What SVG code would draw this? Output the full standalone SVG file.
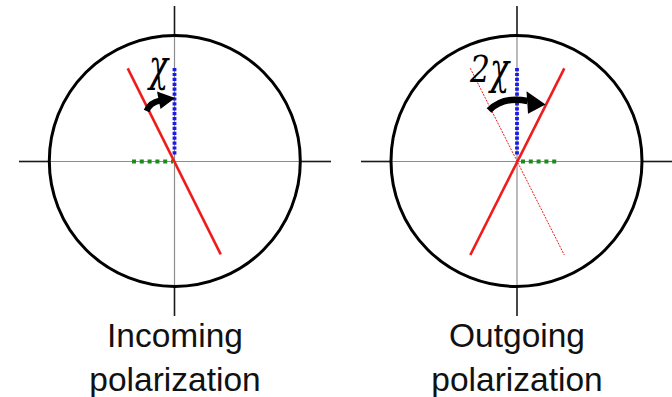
<svg xmlns="http://www.w3.org/2000/svg" width="672" height="397" viewBox="0 0 672 397">
<style>
.bg{fill:#ffffff}
.ax-in{stroke:#8c8c8c;stroke-width:1.2;fill:none}
.ax-out{stroke:#1a1a1a;stroke-width:1.6;fill:none}
.circ{stroke:#000;stroke-width:3;fill:none}
.red{stroke:#f01c1c;stroke-width:2.6;fill:none}
.reddot{stroke:#f01c1c;stroke-width:1;stroke-dasharray:2 1.2;fill:none}
.blue{stroke:#1a1aee;stroke-width:3.8;stroke-dasharray:3.2 1.7;fill:none}
.green{stroke:#1d8a1d;stroke-width:3.8;stroke-dasharray:4 3.8;fill:none}
.shaft{stroke:#000;fill:none;stroke-linecap:butt}
.head{fill:#000}
.lbl{font-family:'Liberation Sans',Arial,sans-serif;font-size:33.5px;fill:#111;text-anchor:middle}
.math{font-family:'DejaVu Serif','Liberation Serif',serif;font-style:italic;fill:#000}
</style>
<rect class="bg" x="0" y="0" width="672" height="397"/>

<g id="incoming">
  <line class="ax-in" x1="174.5" y1="35" x2="174.5" y2="287"/>
  <line class="ax-in" x1="49" y1="161.5" x2="300" y2="161.5"/>
  <line class="ax-out" x1="174.5" y1="6" x2="174.5" y2="35"/>
  <line class="ax-out" x1="174.5" y1="287" x2="174.5" y2="316"/>
  <line class="ax-out" x1="19" y1="161.5" x2="49" y2="161.5"/>
  <line class="ax-out" x1="300" y1="161.5" x2="331" y2="161.5"/>
  <circle class="circ" cx="174.8" cy="161" r="125.5"/>
  <line class="blue" x1="174.5" y1="68" x2="174.5" y2="156"/>
  <line class="green" x1="132" y1="161.5" x2="173" y2="161.5"/>
  <line class="red" x1="127.7" y1="68.3" x2="220.7" y2="254.3"/>
  <path class="shaft" d="M146.5,111 Q150,102.5 160,100.5" stroke-width="6"/>
  <polygon class="head" points="175,98 157,91.5 160.5,109"/>
  <text class="math" font-size="44" transform="translate(149,81) scale(0.72,1)">χ</text>
  <text class="lbl" x="175" y="347">Incoming</text>
  <text class="lbl" x="175" y="391">polarization</text>
</g>

<g id="outgoing">
  <line class="ax-in" x1="517" y1="35" x2="517" y2="287"/>
  <line class="ax-in" x1="391" y1="161.5" x2="642" y2="161.5"/>
  <line class="ax-out" x1="517" y1="6" x2="517" y2="35"/>
  <line class="ax-out" x1="517" y1="287" x2="517" y2="316"/>
  <line class="ax-out" x1="361" y1="161.5" x2="391" y2="161.5"/>
  <line class="ax-out" x1="642" y1="161.5" x2="672" y2="161.5"/>
  <circle class="circ" cx="516.5" cy="161" r="125.5"/>
  <line class="blue" x1="517" y1="68" x2="517" y2="156"/>
  <line class="green" x1="521" y1="161.5" x2="560" y2="161.5"/>
  <line class="reddot" x1="470.3" y1="68.3" x2="564.3" y2="255"/>
  <line class="red" x1="470.3" y1="255" x2="564.3" y2="68.3"/>
  <path class="shaft" d="M489,110.5 Q503,96 527.5,101" stroke-width="6.5"/>
  <polygon class="head" points="545.5,104.5 526.5,91.3 528,113.8"/>
  <text class="math" font-size="37" transform="translate(470,82) scale(0.85,1)">2</text>
  <text class="math" font-size="44" transform="translate(490,84) scale(0.72,1)">χ</text>
  <text class="lbl" x="517" y="347">Outgoing</text>
  <text class="lbl" x="517" y="391">polarization</text>
</g>
</svg>
